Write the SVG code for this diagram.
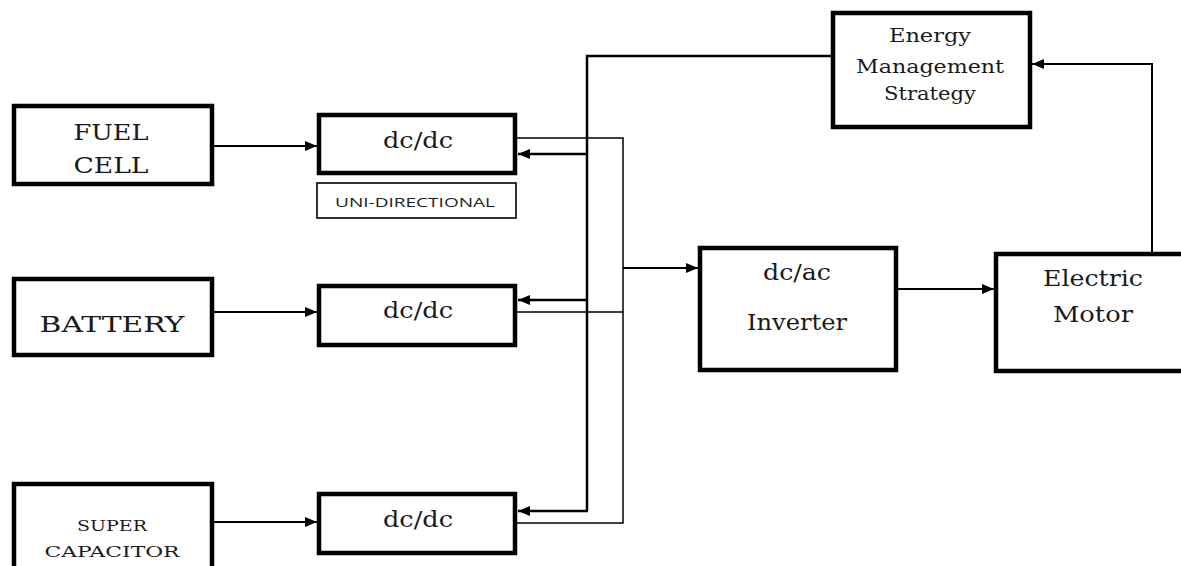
<svg xmlns="http://www.w3.org/2000/svg" width="1181" height="566" viewBox="0 0 1181 566">
  <style>
    .box { fill: #fff; stroke: #000; stroke-width: 4.5; }
    .tag { fill: #fff; stroke: #000; stroke-width: 1.6; }
    .lbl { font-family: "DejaVu Serif", "Liberation Serif", serif; fill: #1a1a1a; text-anchor: middle; }
    .sans { font-family: "Open Sans", "Liberation Sans", sans-serif; fill: #222; text-anchor: middle; }
    .wire { fill: none; stroke: #000; stroke-width: 2; }
    .thin { fill: none; stroke: #000; stroke-width: 1.5; }
    .ctl { fill: none; stroke: #000; stroke-width: 2.5; }
  </style>
  <defs>
    <marker id="arr" viewBox="0 0 12 10" refX="12" refY="5" markerWidth="12" markerHeight="10" markerUnits="userSpaceOnUse" orient="auto">
      <path d="M0,0 L12,5 L0,10 Z" fill="#000"/>
    </marker>
  </defs>
  <rect width="1181" height="566" fill="#fff"/>

  <!-- sources -->
  <g id="fuel-cell">
    <rect class="box" x="14" y="106" width="198" height="78"/>
    <text class="lbl" x="111" y="140" font-size="22" textLength="75" lengthAdjust="spacingAndGlyphs">FUEL</text>
    <text class="lbl" x="111" y="173" font-size="22" textLength="75" lengthAdjust="spacingAndGlyphs">CELL</text>
  </g>
  <g id="battery">
    <rect class="box" x="14" y="279" width="198" height="76"/>
    <text class="lbl" x="112" y="332" font-size="23" textLength="145" lengthAdjust="spacingAndGlyphs">BATTERY</text>
  </g>
  <g id="super-capacitor">
    <rect class="box" x="14" y="484" width="198" height="90"/>
    <text class="lbl" x="112" y="531" font-size="15" textLength="70" lengthAdjust="spacingAndGlyphs">SUPER</text>
    <text class="lbl" x="112" y="557" font-size="15" textLength="135" lengthAdjust="spacingAndGlyphs">CAPACITOR</text>
  </g>

  <!-- converters -->
  <g id="dcdc-1">
    <rect class="box" x="319" y="115" width="196" height="58"/>
    <text class="lbl" x="418" y="148" font-size="22" textLength="70" lengthAdjust="spacingAndGlyphs">dc/dc</text>
  </g>
  <g id="uni-directional">
    <rect class="tag" x="317" y="183" width="199" height="35"/>
    <text class="sans" x="415" y="207" font-size="13" textLength="160" lengthAdjust="spacingAndGlyphs">UNI-DIRECTIONAL</text>
  </g>
  <g id="dcdc-2">
    <rect class="box" x="319" y="286" width="196" height="59"/>
    <text class="lbl" x="418" y="318" font-size="22" textLength="70" lengthAdjust="spacingAndGlyphs">dc/dc</text>
  </g>
  <g id="dcdc-3">
    <rect class="box" x="319" y="494" width="196" height="59"/>
    <text class="lbl" x="418" y="527" font-size="22" textLength="70" lengthAdjust="spacingAndGlyphs">dc/dc</text>
  </g>

  <!-- inverter, motor, controller -->
  <g id="inverter">
    <rect class="box" x="700" y="248" width="196" height="122"/>
    <text class="lbl" x="797" y="280" font-size="22" textLength="68" lengthAdjust="spacingAndGlyphs">dc/ac</text>
    <text class="lbl" x="797" y="330" font-size="22" textLength="100" lengthAdjust="spacingAndGlyphs">Inverter</text>
  </g>
  <g id="electric-motor">
    <rect class="box" x="996" y="254" width="200" height="117"/>
    <text class="lbl" x="1093" y="286" font-size="22" textLength="100" lengthAdjust="spacingAndGlyphs">Electric</text>
    <text class="lbl" x="1093" y="322" font-size="22" textLength="80" lengthAdjust="spacingAndGlyphs">Motor</text>
  </g>
  <g id="energy-management">
    <rect class="box" x="833" y="13" width="197" height="114"/>
    <text class="lbl" x="930" y="42" font-size="18" textLength="82" lengthAdjust="spacingAndGlyphs">Energy</text>
    <text class="lbl" x="930" y="73" font-size="18" textLength="148" lengthAdjust="spacingAndGlyphs">Management</text>
    <text class="lbl" x="930" y="100" font-size="18" textLength="92" lengthAdjust="spacingAndGlyphs">Strategy</text>
  </g>

  <!-- connectors -->
  <g id="connectors">
    <!-- sources into converters -->
    <line class="wire" x1="212" y1="146" x2="317" y2="146" marker-end="url(#arr)"/>
    <line class="wire" x1="212" y1="312" x2="317" y2="312" marker-end="url(#arr)"/>
    <line class="wire" x1="212" y1="522" x2="317" y2="522" marker-end="url(#arr)"/>
    <!-- converter outputs onto the dc bus -->
    <polyline class="thin" points="516,138 623,138 623,523 516,523"/>
    <line class="thin" x1="516" y1="312" x2="623" y2="312"/>
    <!-- dc bus to inverter -->
    <line class="wire" x1="623" y1="268" x2="698" y2="268" marker-end="url(#arr)"/>
    <!-- inverter to motor -->
    <line class="wire" x1="896" y1="289" x2="994" y2="289" marker-end="url(#arr)"/>
    <!-- motor feedback to controller -->
    <polyline class="wire" points="1152,253 1152,64 1032,64" marker-end="url(#arr)"/>
    <!-- controller commands to converters -->
    <polyline class="ctl" points="832,56 587,56 587,511"/>
    <line class="ctl" x1="587" y1="154" x2="518" y2="154" marker-end="url(#arr)"/>
    <line class="ctl" x1="587" y1="300" x2="518" y2="300" marker-end="url(#arr)"/>
    <line class="ctl" x1="588" y1="511" x2="518" y2="511" marker-end="url(#arr)"/>
  </g>
</svg>
